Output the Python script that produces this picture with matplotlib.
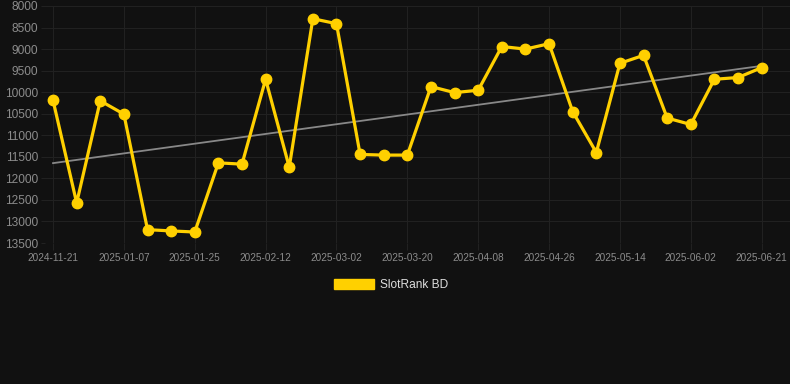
import numpy as np
import matplotlib
matplotlib.use('Agg')
import matplotlib.pyplot as plt
from matplotlib.patches import Patch

# rank values (lower is better, axis inverted)
ranks = [10190, 12570, 10200, 10510, 13190, 13220, 13245, 11640, 11670, 9700,
         11740, 8295, 8410, 11445, 11460, 11460, 9870, 10010, 9955, 8940,
         9000, 8875, 10450, 11400, 9330, 9145, 10600, 10750, 9700, 9660, 9430]
# labels shown every third point
tick_labels = ['2024-11-21', '2025-01-07', '2025-01-25', '2025-02-12', '2025-03-02',
               '2025-03-20', '2025-04-08', '2025-04-26', '2025-05-14', '2025-06-02',
               '2025-06-21']
series_name = 'SlotRank BD'

bg = '#111111'
gold = '#FFD000'
grid_c = '#212121'
txt_c = '#8c8c8c'

plt.rcParams['font.family'] = ['Liberation Sans', 'DejaVu Sans']

fig = plt.figure(figsize=(7.9, 3.84), dpi=100, facecolor=bg)
ax = fig.add_axes([45 / 790, 1 - 243 / 384, 745 / 790, 237 / 384], facecolor=bg)

x = np.arange(len(ranks))
ax.plot(x, ranks, color=gold, lw=2.3, marker='o', ms=7.5, zorder=3)

# trend line
k, b = np.polyfit(x, ranks, 1)
ax.plot([x[0], x[-1]], [k * x[0] + b, k * x[-1] + b], color='#888888', lw=1.3, zorder=2)

ax.set_ylim(13500, 8000)
ax.set_yticks(np.arange(8000, 13501, 500))
ax.set_xlim(-0.34, 31.2)
ax.set_xticks(x[::3])
ax.set_xticklabels(tick_labels)

ax.grid(True, color=grid_c, lw=0.8)
for s in ax.spines.values():
    s.set_visible(False)
ax.tick_params(axis='y', colors=grid_c, labelcolor=txt_c, labelsize=8.6, length=3, pad=2)
ax.tick_params(axis='x', colors=grid_c, labelcolor=txt_c, labelsize=7.2, length=5, pad=2)

fig.legend(handles=[Patch(facecolor=gold, edgecolor=gold)], labels=[series_name],
           loc='center', bbox_to_anchor=(0.495, 1 - 285 / 384), frameon=False,
           handlelength=3.4, handleheight=1.0, handletextpad=0.5,
           fontsize=8.6, labelcolor='#dddddd')

plt.savefig('out.png', dpi=100, facecolor=bg)
